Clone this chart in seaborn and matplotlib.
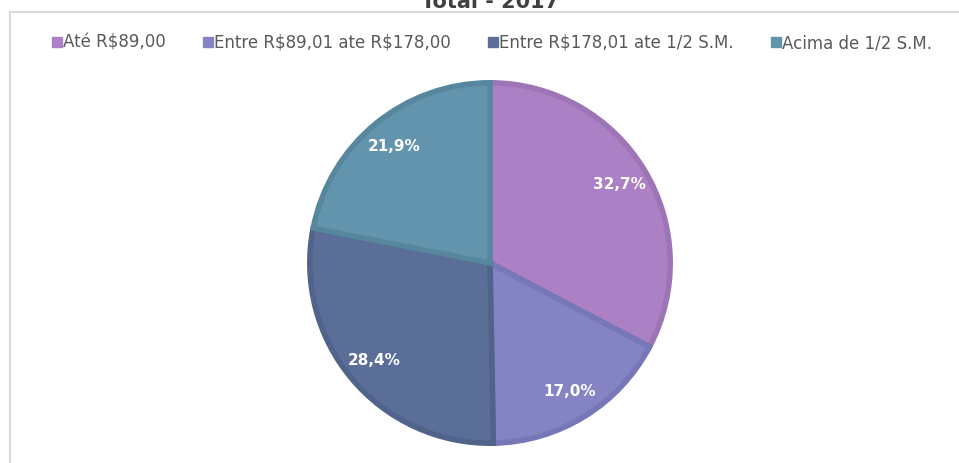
import matplotlib
matplotlib.use("Agg")
import matplotlib.pyplot as plt
import seaborn as sns
from matplotlib.lines import Line2D
from matplotlib.patches import Rectangle

# data
categories = ["Até R\\$89,00", "Entre R\\$89,01 ate R\\$178,00",
              "Entre R\\$178,01 ate 1/2 S.M.", "Acima de 1/2 S.M."]
shares = [32.7, 17.0, 28.4, 21.9]
title = "Total - 2017"

fill_colors = sns.color_palette(["#AC80C5", "#8483C4", "#5B6E98", "#6394AE"])
edge_colors = sns.color_palette(["#9D74B6", "#7677B6", "#50638A", "#57879F"])

sns.set_theme(style="white")
# the screenshot is a bit stretched sideways, DejaVu's wide glyphs fit it best
plt.rcParams["font.family"] = ["DejaVu Sans"]

fig = plt.figure(figsize=(9.59, 4.63), dpi=100)
fig.patch.set_facecolor("white")

# chart frame (cropped screenshot of a spreadsheet chart)
fig.add_artist(Rectangle((10 / 959, -0.1), 1.2, 1 - 12 / 463 + 0.1,
                         transform=fig.transFigure, fill=False,
                         edgecolor="#D9D9D9", linewidth=1.5))

# title, cut off at the top like in the screenshot
fig.text(490 / 959, 1 - 8 / 463, title, ha="center", va="baseline",
         fontsize=15, fontweight="bold", color="#404040")

cx, cy, r = 490 / 959, 1 - 263 / 463, 182
ax = fig.add_axes([cx - r / 959, cy - r / 463, 2 * r / 959, 2 * r / 463])
wedges, texts, autotexts = ax.pie(
    shares, colors=fill_colors, startangle=90, counterclock=False,
    radius=1, autopct=lambda p: f"{p:.1f}%".replace(".", ","),
    pctdistance=0.84,
    wedgeprops=dict(linewidth=4),
    textprops=dict(color="white", fontsize=11, fontweight="bold"))
for w, ec in zip(wedges, edge_colors):
    w.set_edgecolor(ec)
ax.set_xlim(-1.01, 1.01)
ax.set_ylim(-1.01, 1.01)
ax.set_aspect("auto")
ax.axis("off")

handles = [Line2D([], [], marker="s", linestyle="none", markersize=6.5,
                  markerfacecolor=c, markeredgecolor=c) for c in fill_colors]
fig.legend(handles, categories, loc="center", ncol=4,
           bbox_to_anchor=(492 / 959, 1 - 43 / 463), frameon=False,
           fontsize=12, labelcolor="#595959", handlelength=0.6,
           handletextpad=0.1, columnspacing=2.2)

fig.savefig("out.png", dpi=100, facecolor="white")
